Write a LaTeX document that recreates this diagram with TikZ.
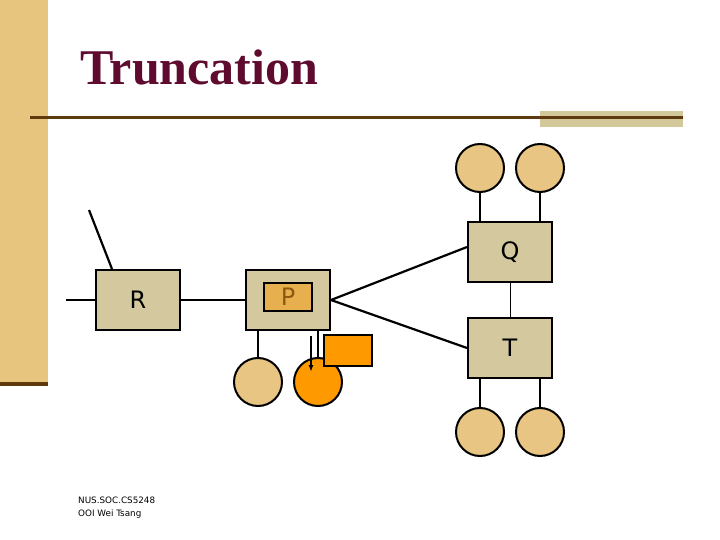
\documentclass[tikz,border=0pt]{standalone}
\usepackage{fontspec}
\setmainfont{Liberation Serif}
\setsansfont{DejaVu Sans}
\usetikzlibrary{arrows.meta}
\definecolor{sidetan}{HTML}{E8C57F}
\definecolor{rulebrown}{HTML}{5E3A0E}
\definecolor{ruletan}{HTML}{D3C89A}
\definecolor{titlered}{HTML}{5E0B2F}
\definecolor{boxtan}{HTML}{D4C99E}
\definecolor{balltan}{HTML}{E9C584}
\definecolor{fragorange}{HTML}{FF9900}
\definecolor{innertan}{HTML}{E8AF4F}
\definecolor{pbrown}{HTML}{8B5A10}

\tikzset{
  boxnode/.style={draw, line width=2pt, fill=boxtan, minimum width=84pt, minimum height=60pt,
    inner sep=0pt, font=\sffamily\fontsize{24}{24}\selectfont},
  ballnode/.style={circle, draw, line width=2pt, fill=balltan, minimum size=48pt, inner sep=0pt},
  link/.style={line width=2.2pt}
}

\begin{document}
\begin{tikzpicture}[x=1pt, y=-1pt]
\useasboundingbox (0,0) rectangle (720,540);

% Side bar and title rule
\fill[sidetan] (0,0) rectangle (48,382);
\fill[rulebrown] (0,382) rectangle (48,386);
\fill[ruletan] (540,111) rectangle (683,127);
\fill[rulebrown] (30,116) rectangle (683,119);
\node[font=\fontsize{50}{50}\selectfont\bfseries, text=titlered, anchor=base west, inner sep=0pt] (title) at (80,85) {Truncation};

% Boxes
\node[boxnode] (R) at (138,300) {R};
\node[boxnode] (P) at (288,300) {};
\node[draw, line width=2pt, fill=innertan, minimum width=48pt, minimum height=28pt, inner sep=0pt,
  font=\sffamily\fontsize{24}{24}\selectfont, text=pbrown] (Pin) at (288,297) {P};
\node[boxnode] (Q) at (510,252) {Q};
\node[boxnode] (T) at (510,348) {T};

% Balls
\node[ballnode] (qa) at (480,168) {};
\node[ballnode] (qb) at (540,168) {};
\node[ballnode] (ta) at (480,432) {};
\node[ballnode] (tb) at (540,432) {};
\node[ballnode] (pa) at (258,382) {};
\node[ballnode, fill=fragorange] (pb) at (318,382) {};
\node[draw, line width=2pt, fill=fragorange, minimum width=48pt, minimum height=31pt, inner sep=0pt] (frag) at (348,350.5) {};

% Loose ends
\coordinate (rin) at (66,300);
\coordinate (rup) at (89,210);
\coordinate (dropA) at (311,336);
\coordinate (dropB) at (311,372);

% Links
\draw[link] (rin) -- (R.west);
\draw[link] (rup) -- ([xshift=17pt]R.north west);
\draw[link] (R.east) -- (P.west);
\draw[link] (P.east) -- ([yshift=5pt]Q.west);
\draw[link] (P.east) -- (T.west);
\draw[line width=1pt] (Q.south) -- (T.north);
\draw[link] (qa.south) -- (qa |- Q.north);
\draw[link] (qb.south) -- (qb |- Q.north);
\draw[link] (ta.north) -- (ta |- T.south);
\draw[link] (tb.north) -- (tb |- T.south);
\draw[link] (pa.north) -- (pa |- P.south);
\draw[link] (pb.north) -- (pb |- P.south);
\draw[line width=1.5pt, -{Latex[length=7pt,width=5pt]}] (dropA) -- (dropB);

% Footer
\node[font=\sffamily\fontsize{8.8}{13}\selectfont, align=left, anchor=north west, inner sep=0pt] (foot) at (78,497) {NUS.SOC.CS5248\\OOI Wei Tsang};

\end{tikzpicture}
\end{document}
